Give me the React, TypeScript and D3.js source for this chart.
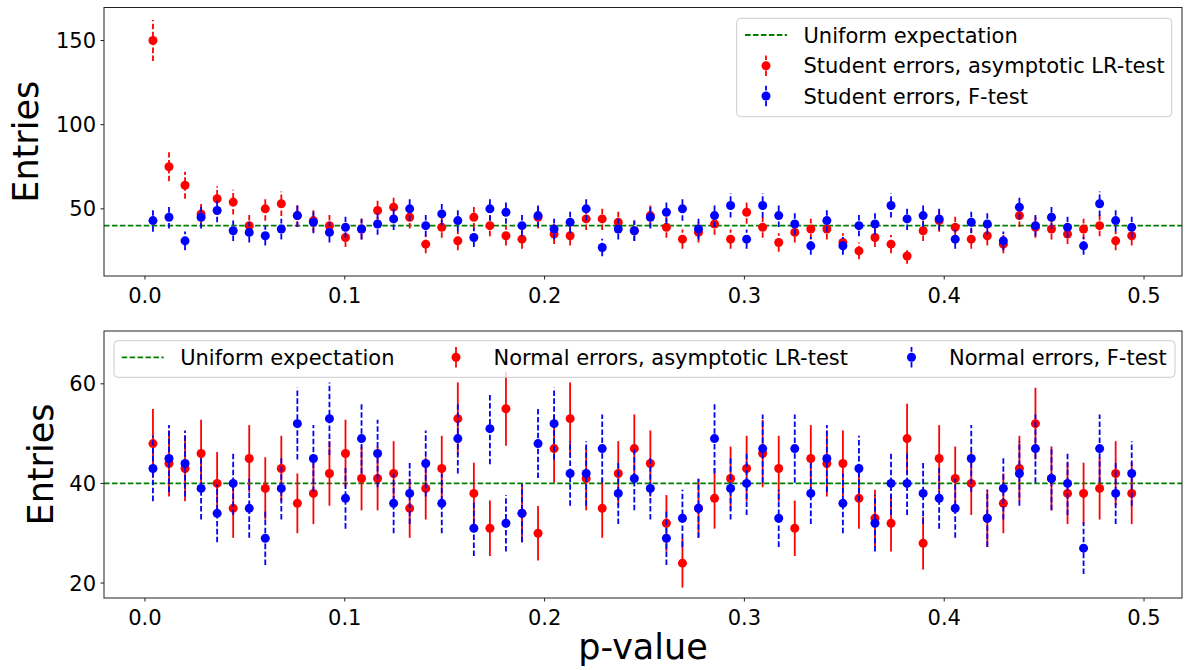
import * as d3 from "d3";

// bin centres of the p-value histogram (62 bins)
const nBins = 62;
const binStart = 0.004;
const binStep = 0.00803;
const pValues = d3.range(nBins).map((i) => binStart + i * binStep);

// top panel: Student errors
const studentLR = [
  150, 75, 64, 47, 56, 54, 40, 50, 53, 46, 43, 40, 33, 38, 49, 51, 45, 29, 39, 31,
  45, 40, 34, 32, 45, 35, 34, 44, 44, 42, 37, 46, 39, 32, 36, 41, 32, 48, 39, 30,
  36, 38, 38, 30, 25, 33, 29, 22, 37, 43, 39, 32, 34, 29, 46, 39, 38, 35, 38, 40,
  31, 34,
];
const studentF = [
  43, 45, 31, 45, 49, 37, 36, 34, 38, 46, 42, 36, 39, 38, 41, 44, 50, 40, 47, 43,
  33, 50, 48, 40, 46, 38, 42, 50, 27, 38, 37, 45, 48, 50, 38, 46, 52, 32, 52, 46,
  41, 28, 43, 28, 40, 41, 52, 44, 46, 44, 32, 42, 41, 31, 51, 40, 45, 39, 28, 53,
  43, 39,
];

// bottom panel: Normal errors
const normalLR = [
  48, 44, 43, 46, 40, 35, 45, 39, 43, 36, 38, 42, 46, 41, 41, 42, 35, 39, 43, 53,
  38, 31, 55, 34, 30, 47, 53, 41, 35, 42, 47, 44, 32, 24, 35, 37, 41, 43, 46, 43,
  31, 45, 44, 44, 37, 33, 32, 49, 28, 45, 41, 40, 33, 36, 43, 52, 41, 38, 38, 39,
  42, 38,
];
const normalF = [
  43, 45, 44, 39, 34, 40, 35, 29, 39, 52, 45, 53, 37, 49, 46, 36, 38, 44, 36, 49,
  31, 51, 32, 34, 48, 52, 42, 42, 47, 38, 41, 39, 29, 33, 35, 49, 39, 40, 47, 33,
  47, 38, 45, 36, 43, 32, 40, 40, 38, 37, 35, 45, 33, 39, 42, 47, 41, 40, 27, 47,
  38, 42,
];

const uniformExpectation = 40;
const xTicks = [0, 0.1, 0.2, 0.3, 0.4, 0.5];

const FONT = "DejaVu Sans, sans-serif";
const FS = 21;
const DASH = "5.55,2.4";
const left = 104;
const right = 1182;

const x = d3.scaleLinear().domain([-0.0205, 0.519]).range([left, right]);

type Panel = {
  top: number;
  bottom: number;
  yDomain: [number, number];
  yTicks: number[];
  red: number[];
  blue: number[];
  redDash: string | undefined;
  blueDash: string | undefined;
  redLabel: string;
  blueLabel: string;
  ylabelX: number;
  legend: "column" | "row";
};

const panels: Panel[] = [
  {
    top: 7.5,
    bottom: 276,
    yDomain: [10.1, 169.6],
    yTicks: [50, 100, 150],
    red: studentLR,
    blue: studentF,
    redDash: DASH,
    blueDash: DASH,
    redLabel: "Student errors, asymptotic LR-test",
    blueLabel: "Student errors, F-test",
    ylabelX: 38,
    legend: "column",
  },
  {
    top: 331,
    bottom: 598,
    yDomain: [17.0, 70.6],
    yTicks: [20, 40, 60],
    red: normalLR,
    blue: normalF,
    redDash: undefined,
    blueDash: DASH,
    redLabel: "Normal errors, asymptotic LR-test",
    blueLabel: "Normal errors, F-test",
    ylabelX: 53,
    legend: "row",
  },
];

function ErrMarker({ cx, cy, color, dash }: { cx: number; cy: number; color: string; dash?: string }) {
  return (
    <g>
      <line x1={cx} x2={cx} y1={cy + 10.3} y2={cy - 10.3} stroke={color} strokeWidth={1.8} strokeDasharray={dash} />
      <circle cx={cx} cy={cy} r={4.5} fill={color} />
    </g>
  );
}

function Legend({ p }: { p: Panel }) {
  const handleLen = 42;
  const textGap = 16.5;
  if (p.legend === "column") {
    const bx = 736.7, by = 18.3, bw = 435, bh = 98.4;
    const hx = 745;
    const rows = [35, 65.7, 96];
    return (
      <g>
        <rect x={bx} y={by} width={bw} height={bh} rx={4} fill="white" fillOpacity={0.8} stroke="#cccccc" strokeWidth={1} />
        <line x1={hx} x2={hx + handleLen} y1={rows[0]} y2={rows[0]} stroke="green" strokeWidth={1.8} strokeDasharray={DASH} />
        <ErrMarker cx={hx + handleLen / 2} cy={rows[1]} color="red" dash={p.redDash} />
        <ErrMarker cx={hx + handleLen / 2} cy={rows[2]} color="blue" dash={p.blueDash} />
        {["Uniform expectation", p.redLabel, p.blueLabel].map((t, i) => (
          <text key={t} x={hx + handleLen + textGap} y={rows[i]} dy="0.37em" fontSize={FS} fontFamily={FONT} fill="#000">
            {t}
          </text>
        ))}
      </g>
    );
  }
  const bx = 114, by = 340.7, bw = 1061, bh = 36.6;
  const cy = 357.3;
  const hxs = [121.7, 435, 890.5];
  return (
    <g>
      <rect x={bx} y={by} width={bw} height={bh} rx={4} fill="white" fillOpacity={0.8} stroke="#cccccc" strokeWidth={1} />
      <line x1={hxs[0]} x2={hxs[0] + handleLen} y1={cy} y2={cy} stroke="green" strokeWidth={1.8} strokeDasharray={DASH} />
      <ErrMarker cx={hxs[1] + handleLen / 2} cy={cy} color="red" dash={p.redDash} />
      <ErrMarker cx={hxs[2] + handleLen / 2} cy={cy} color="blue" dash={p.blueDash} />
      {["Uniform expectation", p.redLabel, p.blueLabel].map((t, i) => (
        <text key={t} x={hxs[i] + handleLen + textGap} y={cy} dy="0.37em" fontSize={FS} fontFamily={FONT} fill="#000">
          {t}
        </text>
      ))}
    </g>
  );
}

function Series({ values, color, dash, y }: { values: number[]; color: string; dash?: string; y: d3.ScaleLinear<number, number> }) {
  return (
    <g>
      {values.map((v, i) => {
        const e = Math.sqrt(v);
        const cx = x(pValues[i]);
        return (
          <g key={i}>
            <line x1={cx} x2={cx} y1={y(v - e)} y2={y(v + e)} stroke={color} strokeWidth={1.8} strokeDasharray={dash} />
            <circle cx={cx} cy={y(v)} r={4.5} fill={color} />
          </g>
        );
      })}
    </g>
  );
}

function PanelView({ p }: { p: Panel }) {
  const y = d3.scaleLinear().domain(p.yDomain).range([p.bottom, p.top]);
  const clipId = `clip-${p.top}`;
  return (
    <g>
      <defs>
        <clipPath id={clipId}>
          <rect x={left} y={p.top} width={right - left} height={p.bottom - p.top} />
        </clipPath>
      </defs>
      <g clipPath={`url(#${clipId})`}>
        <line x1={left} x2={right} y1={y(uniformExpectation)} y2={y(uniformExpectation)} stroke="green" strokeWidth={1.8} strokeDasharray={DASH} />
        <Series values={p.red} color="red" dash={p.redDash} y={y} />
        <Series values={p.blue} color="blue" dash={p.blueDash} y={y} />
      </g>
      <Legend p={p} />
      <rect x={left} y={p.top} width={right - left} height={p.bottom - p.top} fill="none" stroke="#222" strokeWidth={1} />
      {xTicks.map((t) => (
        <g key={t}>
          <line x1={x(t)} x2={x(t)} y1={p.bottom} y2={p.bottom + 3.5} stroke="#222" strokeWidth={1} />
          <text x={x(t)} y={p.bottom + 27} textAnchor="middle" fontSize={FS} fontFamily={FONT} fill="#000">
            {d3.format(".1f")(t)}
          </text>
        </g>
      ))}
      {p.yTicks.map((t) => (
        <g key={t}>
          <line x1={left - 3.5} x2={left} y1={y(t)} y2={y(t)} stroke="#222" strokeWidth={1} />
          <text x={left - 8} y={y(t)} dy="0.36em" textAnchor="end" fontSize={FS} fontFamily={FONT} fill="#000">
            {t}
          </text>
        </g>
      ))}
      <text
        transform={`translate(${p.ylabelX},${(p.top + p.bottom) / 2}) rotate(-90)`}
        textAnchor="middle"
        fontSize={35}
        fontFamily={FONT}
        fill="#000"
      >
        Entries
      </text>
    </g>
  );
}

export default function App() {
  return (
    <svg width={1185} height={670} style={{ position: "absolute", left: 0, top: 0, background: "white" }}>
      {panels.map((p) => (
        <PanelView key={p.top} p={p} />
      ))}
      <text x={(left + right) / 2} y={659} textAnchor="middle" fontSize={35} fontFamily={FONT} fill="#000">
        p-value
      </text>
    </svg>
  );
}
